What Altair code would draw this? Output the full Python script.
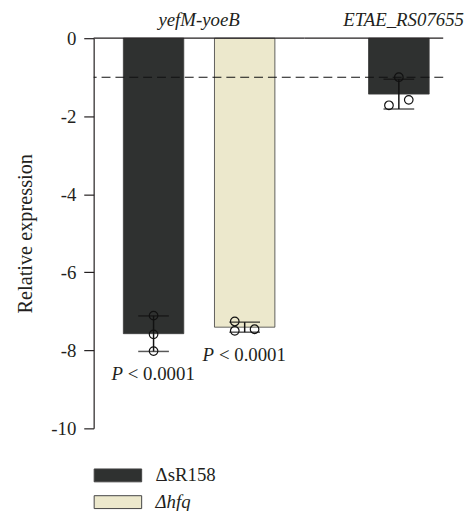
import altair as alt
import pandas as pd

# ---- data ----
genes = ["yefM-yoeB", "yefM-yoeB", "ETAE_RS07655"]
strains = ["ΔsR158", "Δhfq", "ΔsR158"]
replicates = [[-7.11, -7.59, -8.02], [-7.26, -7.50, -7.46], [-1.00, -1.72, -1.58]]
jitter = [[0, 0, 0], [-1, -1, 1], [0, -1, 1]]
pvals = ["P < 0.0001", "P < 0.0001", ""]
strain_order = ["ΔsR158", "Δhfq"]
bar_colors = ["#2f3130", "#ece8cc"]
y_ticks = [0, -2, -4, -6, -8, -10]
zero_line = [0]
threshold = [-1]
gene_order = ["yefM-yoeB", "ETAE_RS07655"]

rows = []
for g, s, reps, jit, p in zip(genes, strains, replicates, jitter, pvals):
    for v, j in zip(reps, jit):
        rows.append({"gene": g, "strain": s, "value": v, "jitter": j, "pval": p})
df = pd.DataFrame(rows)

SERIF = "Liberation Serif"
INK = "#231f20"
FS = 19
JITTER_PX = 10

color_scale = alt.Scale(domain=strain_order, range=bar_colors)
y_scale = alt.Scale(domain=[-10, 0], nice=False, zero=False)

legend = alt.Legend(
    title=None, orient="none", legendX=15, legendY=432, padding=0,
    symbolType="M-3.69,-1L3.69,-1L3.69,1L-3.69,1Z", symbolSize=169,
    symbolStrokeColor="#444444", symbolStrokeWidth=1, symbolOpacity=1,
    labelFont=SERIF, labelFontSize=FS, labelColor=INK, labelOffset=28.5,
    rowPadding=7,
    labelFontStyle=alt.ExprRef("datum.label == 'Δhfq' ? 'italic' : 'normal'"),
)

y_axis = alt.Axis(
    values=y_ticks, labelExpr="toString(datum.value)", tickSize=10,
    tickColor=INK, domainColor=INK, tickWidth=1.2, domainWidth=1.2,
    labelFont=SERIF, labelFontSize=FS, labelColor=INK, labelPadding=8,
    title="Relative expression", titleFont=SERIF, titleFontSize=20.5,
    titleFontWeight="normal", titleColor=INK, titlePadding=15, grid=False,
)


def panel(gene, domain, x_scale, width, axis, title_dx, title_offset):
    base = alt.Chart(df).transform_filter(alt.datum.gene == gene)
    xs = alt.X("strain:N", scale=alt.Scale(domain=domain, **x_scale), axis=None, title=None)

    def Y(field):
        return alt.Y(field, scale=y_scale, axis=axis, title="Relative expression")

    bars = base.mark_bar(stroke="#3a3a3a", strokeWidth=0.8).encode(
        x=xs, y=Y("mean(value):Q"),
        color=alt.Color("strain:N", scale=color_scale, legend=legend),
    )
    zero = alt.Chart(pd.DataFrame({"v": zero_line})).mark_rule(
        color=INK, strokeWidth=1.3).encode(y=Y("v:Q"))
    dash = alt.Chart(pd.DataFrame({"v": threshold})).mark_rule(
        color="#111111", strokeWidth=1.1, strokeDash=[9, 5]).encode(y=Y("v:Q"))
    err = base.mark_errorbar(
        extent="stdev", color="#111111", thickness=1.5,
        ticks=alt.TickConfig(size=31, thickness=1.5, color="#111111"),
    ).encode(x=xs, y=Y("value:Q"))
    pts = [
        base.transform_filter(alt.datum.jitter == j).mark_point(
            shape="circle", filled=False, size=75, stroke="#111111",
            strokeWidth=1.2, opacity=1, xOffset=j * JITTER_PX,
        ).encode(x=xs, y=Y("value:Q"))
        for j in (-1, 0, 1)
    ]
    ptxt = base.transform_filter(alt.datum.pval != "").transform_aggregate(
        m="mean(value)", s="stdev(value)", groupby=["strain", "pval"]
    ).transform_calculate(
        lo="datum.m - datum.s",
        head="substring(datum.pval, 0, indexof(datum.pval, ' '))",
        tail="substring(datum.pval, indexof(datum.pval, ' ') + 1)",
    )
    p_head = ptxt.mark_text(font=SERIF, fontSize=FS, fontStyle="italic", color=INK,
                            align="right", baseline="middle", dx=-31, dy=23).encode(
        x=xs, y=Y("lo:Q"), text="head:N")
    p_tail = ptxt.mark_text(font=SERIF, fontSize=FS, color=INK,
                            align="left", baseline="middle", dx=-26, dy=23).encode(
        x=xs, y=Y("lo:Q"), text="tail:N")
    return alt.layer(bars, zero, dash, err, *pts, p_head, p_tail).properties(
        width=width, height=394,
        title=alt.TitleParams(gene, font=SERIF, fontSize=FS, fontStyle="italic",
                              fontWeight="normal", color=INK, anchor="middle",
                              frame="group", offset=title_offset, dx=title_dx),
    )


p1 = panel(gene_order[0], strain_order,
           dict(paddingInner=0.337, paddingOuter=0.326), 213, y_axis, 0, -1)
p2 = panel(gene_order[1], strain_order[:1],
           dict(paddingInner=0, paddingOuter=0.643, align=0.82), 140, None, 30, 8)

chart = alt.hconcat(p1, p2, spacing=0, bounds="flush").resolve_scale(
    color="shared").resolve_legend(color="shared").properties(
    padding={"left": 7.5, "top": 0, "right": 0, "bottom": 0}
).configure_view(stroke=None)

chart.save("out.html", embed_options={"renderer": "svg", "actions": False})
